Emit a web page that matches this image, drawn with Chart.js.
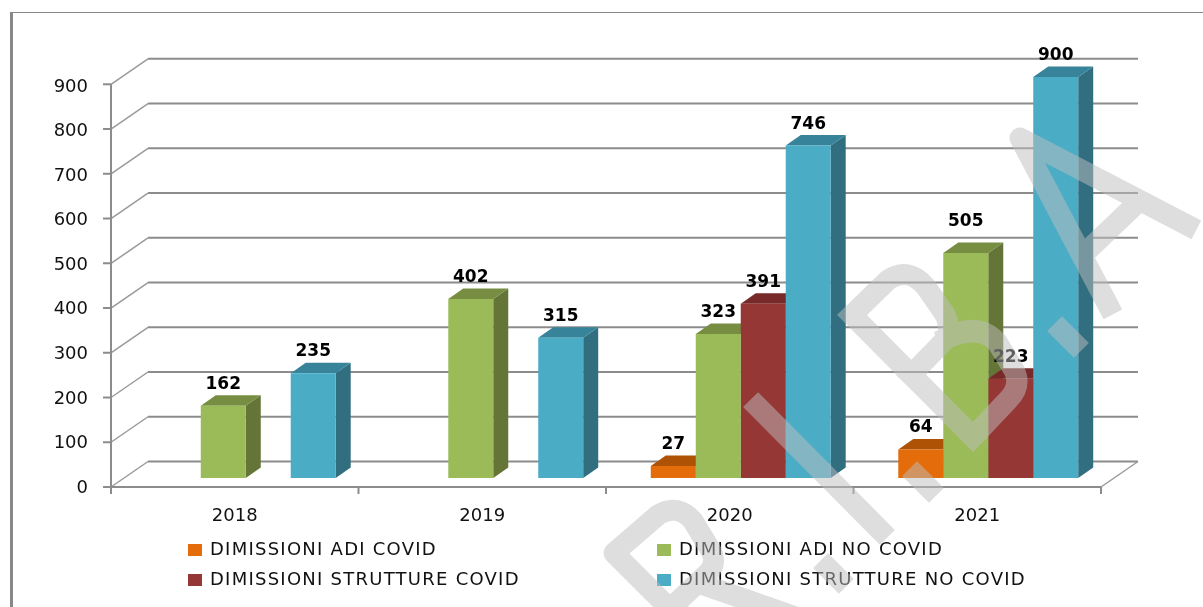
<!DOCTYPE html>
<html>
<head>
<meta charset="utf-8">
<title>Dimissioni</title>
<script src="https://cdn.jsdelivr.net/npm/chart.js@4/dist/chart.umd.js"></script>
<style>
    html, body { margin: 0; padding: 0; background: #fff; }
    canvas { display: block; }
</style>
</head>
<body>
<canvas id="chart" width="1203" height="607"></canvas>
<script>
// ================== DATA ==================
const years = ["2018", "2019", "2020", "2021"];
const adiCovid = [null, null, 27, 64];
const adiNoCovid = [162, 402, 323, 505];
const strutCovid = [null, null, 391, 223];
const strutNoCovid = [235, 315, 746, 900];
const seriesNames = [
    "DIMISSIONI ADI COVID",
    "DIMISSIONI ADI NO COVID",
    "DIMISSIONI STRUTTURE COVID",
    "DIMISSIONI STRUTTURE NO COVID"
];

// ================== COLOURS ==================
const frontColors = ["#E46C0A", "#9BBB59", "#953735", "#4BACC6"];
const topColors = ["#AE5206", "#778E42", "#772A29", "#37849A"];
const sideColors = ["#8F4506", "#647537", "#5F2322", "#316E80"];
const lineGrey = "#8C8C8C";
const fontName = '"DejaVu Sans"';

// ================== 3D LOOK ==================
const depthX = 15, depthY = 10.5;    // bar depth
const wallX = 37, wallY = 25.5;      // wall depth
const axisX0 = 111, axisX1 = 1101, axisY0 = 487;

function wallPixel(scale, v) {
    return axisY0 - (scale.getPixelForValue(0) - scale.getPixelForValue(v)) * 1.0043;
}

function poly(ctx, color, pts) {
    ctx.fillStyle = color;
    ctx.beginPath();
    pts.forEach((p, i) => i ? ctx.lineTo(p[0], p[1]) : ctx.moveTo(p[0], p[1]));
    ctx.closePath();
    ctx.fill();
}

const wallPlugin = {
    id: "walls",
    beforeDatasetsDraw(chart) {
        const ctx = chart.ctx, y = chart.scales.y;
        ctx.save();

        // outer frame
        ctx.strokeStyle = "#888";
        ctx.lineWidth = 1;
        ctx.beginPath();
        ctx.moveTo(11, 12.5);
        ctx.lineTo(1203, 12.5);
        ctx.stroke();
        ctx.lineWidth = 3;
        ctx.beginPath();
        ctx.moveTo(11.5, 12);
        ctx.lineTo(11.5, 607);
        ctx.stroke();

        // grid on the back wall and floor/side diagonals
        y.ticks.forEach(t => {
            const py = wallPixel(y, t.value);
            ctx.strokeStyle = lineGrey;
            ctx.lineWidth = 2;
            ctx.beginPath();
            ctx.moveTo(axisX0 + wallX, py - wallY);
            ctx.lineTo(axisX1 + wallX, py - wallY);
            ctx.stroke();
            ctx.strokeStyle = "#999";
            ctx.lineWidth = 1.5;
            ctx.beginPath();
            ctx.moveTo(axisX0, py);
            ctx.lineTo(axisX0 + wallX, py - wallY);
            ctx.stroke();
            ctx.strokeStyle = lineGrey;
            ctx.lineWidth = 2;
            ctx.beginPath();
            ctx.moveTo(axisX0 - 8, py);
            ctx.lineTo(axisX0, py);
            ctx.stroke();
        });
        ctx.strokeStyle = "#999";
        ctx.lineWidth = 1.5;
        ctx.beginPath();
        ctx.moveTo(axisX1, axisY0);
        ctx.lineTo(axisX1 + wallX, axisY0 - wallY);
        ctx.stroke();

        // front axes
        ctx.strokeStyle = lineGrey;
        ctx.lineWidth = 2;
        ctx.beginPath();
        ctx.moveTo(axisX0, wallPixel(y, 900));
        ctx.lineTo(axisX0, axisY0);
        ctx.lineTo(axisX1, axisY0);
        ctx.stroke();
        for (let k = 0; k <= years.length; k++) {
            const tx = axisX0 + (axisX1 - axisX0) * k / years.length;
            ctx.beginPath();
            ctx.moveTo(tx, axisY0);
            ctx.lineTo(tx, axisY0 + 7);
            ctx.stroke();
        }

        // bar sides and tops, left to right so that neighbours overlap properly
        years.forEach((yr, j) => {
            chart.data.datasets.forEach((ds, i) => {
                if (ds.data[j] == null) return;
                const bar = chart.getDatasetMeta(i).data[j];
                const x0 = bar.x - bar.width / 2, x1 = bar.x + bar.width / 2;
                poly(ctx, sideColors[i], [[x1, bar.y], [x1 + depthX, bar.y - depthY],
                    [x1 + depthX, bar.base - depthY], [x1, bar.base]]);
                poly(ctx, topColors[i], [[x0, bar.y], [x0 + depthX, bar.y - depthY],
                    [x1 + depthX, bar.y - depthY], [x1, bar.y]]);
            });
        });
        ctx.restore();
    }
};

const labelPlugin = {
    id: "labels",
    afterDatasetsDraw(chart) {
        const ctx = chart.ctx;
        ctx.save();

        // value labels
        ctx.fillStyle = "#000";
        ctx.font = "bold 17px " + fontName;
        ctx.textAlign = "center";
        ctx.textBaseline = "middle";
        chart.data.datasets.forEach((ds, i) => {
            chart.getDatasetMeta(i).data.forEach((bar, j) => {
                if (ds.data[j] == null) return;
                const lift = ds.data[j] === 505 ? 31 : 21.5;
                ctx.fillText(ds.data[j], bar.x, bar.y - lift);
            });
        });

        // legend, two columns
        const colX = [188, 657], rowY = [550, 580];
        ctx.font = "18px " + fontName;
        ctx.letterSpacing = "1.25px";
        ctx.textAlign = "left";
        seriesNames.forEach((name, i) => {
            const cx = colX[i % 2], cy = rowY[Math.floor(i / 2)];
            ctx.fillStyle = frontColors[i];
            ctx.fillRect(cx, cy - 6, 14, 12);
            ctx.fillStyle = "#111";
            ctx.fillText(name, cx + 22, cy);
        });
        ctx.restore();
    }
};

// ================== WATERMARK ==================
const watermarkPlugin = {
    id: "watermark",
    afterDraw(chart) {
        const ctx = chart.ctx;
        ctx.save();
        ctx.strokeStyle = "rgba(190,190,190,0.5)";
        ctx.lineWidth = 21;
        ctx.lineCap = "square";
        ctx.lineJoin = "round";
        ctx.beginPath();
        // R
        ctx.moveTo(675, 614); ctx.lineTo(614, 553); ctx.lineTo(658, 515);
        ctx.quadraticCurveTo(678, 503, 693, 521);
        ctx.lineTo(710, 549);
        ctx.quadraticCurveTo(718, 563, 708, 573);
        ctx.lineTo(672, 607);
        ctx.moveTo(704, 585); ctx.lineTo(810, 622);
        // I
        ctx.moveTo(758, 407); ctx.lineTo(880, 530);
        // dots
        ctx.moveTo(828, 568); ctx.lineTo(839, 579);
        ctx.moveTo(917, 476); ctx.lineTo(929, 488);
        ctx.moveTo(1062, 331); ctx.lineTo(1074, 343);
        // B
        ctx.moveTo(852, 315); ctx.lineTo(973, 437);
        ctx.moveTo(911, 375); ctx.lineTo(948, 337);
        ctx.quadraticCurveTo(950, 322, 944, 313);
        ctx.lineTo(926, 287);
        ctx.quadraticCurveTo(908, 266, 888, 280);
        ctx.lineTo(852, 315);
        ctx.moveTo(948, 337);
        ctx.quadraticCurveTo(978, 322, 997, 342);
        ctx.lineTo(1014, 370);
        ctx.quadraticCurveTo(1022, 386, 1008, 400);
        ctx.lineTo(973, 437);
        // A
        ctx.moveTo(1187, 225); ctx.lineTo(1020, 138); ctx.lineTo(1108, 305);
        ctx.moveTo(1133, 207); ctx.lineTo(1088, 250);
        ctx.stroke();
        ctx.restore();
    }
};

// ================== CHART ==================
new Chart(document.getElementById("chart"), {
    type: "bar",
    data: {
        labels: years,
        datasets: [adiCovid, adiNoCovid, strutCovid, strutNoCovid].map((values, i) => ({
            label: seriesNames[i],
            data: values,
            backgroundColor: frontColors[i],
            borderWidth: 0,
            categoryPercentage: 0.727,
            barPercentage: 1
        }))
    },
    options: {
        responsive: false,
        animation: false,
        layout: { padding: { top: 77, right: 91, left: 0, bottom: 0 } },
        plugins: {
            legend: { display: false },
            tooltip: { enabled: false }
        },
        scales: {
            x: {
                afterFit(scale) { scale.height = 129; },
                grid: { display: false, drawTicks: false },
                border: { display: false },
                ticks: {
                    padding: 28,
                    labelOffset: -11,
                    maxRotation: 0,
                    color: "#111",
                    font: { family: fontName, size: 18 }
                }
            },
            y: {
                min: 0,
                max: 900,
                afterFit(scale) { scale.width = 122; },
                grid: { display: false, drawTicks: false },
                border: { display: false },
                ticks: {
                    stepSize: 100,
                    padding: 34,
                    labelOffset: 10,
                    color: "#111",
                    font: { family: fontName, size: 18 }
                }
            }
        }
    },
    plugins: [wallPlugin, labelPlugin, watermarkPlugin]
});
</script>
</body>
</html>
